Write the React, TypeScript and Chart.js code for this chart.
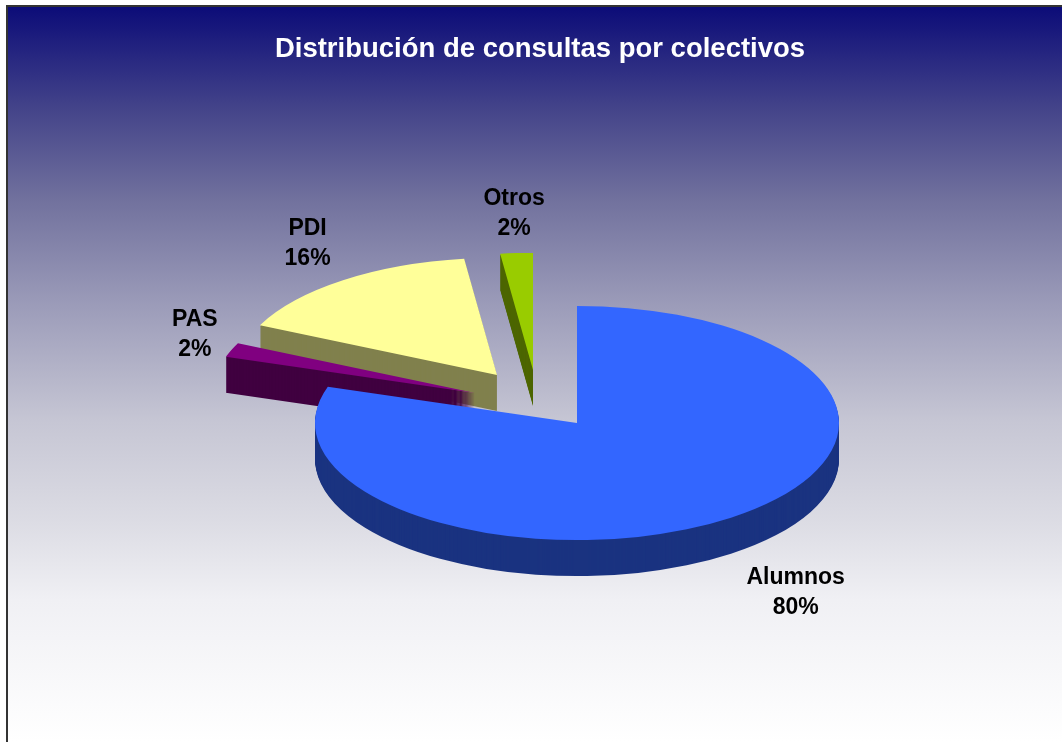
import React, { useEffect, useRef } from 'react';
import { Chart, registerables } from 'chart.js';

Chart.register(...registerables);

const TITLE = 'Distribución de consultas por colectivos';
const categories = ['Alumnos', 'PAS', 'PDI', 'Otros'];
const values = [80, 2, 16, 2];

// styling
const topColors = ['#3366FF', '#800080', '#FFFF99', '#99CC00'];
const sideColors = ['#1A3380', '#400040', '#80804D', '#4D6600'];
const explodeX = [0, -102, -80, -44];
const explodeY = [0, -30, -48, -53];
const drawOrder = [2, 3, 1, 0];
const labelDistX = [1.42, 1.15, 1.23, 1.15];
const labelDistY = [1.41, 1.35, 1.39, 1.34];
const TILT = 0.447;
const DEPTH = 36;

const pie3d = {
  id: 'pie3d',
  beforeDatasetsDraw(chart: any) {
    const ctx = chart.ctx as CanvasRenderingContext2D;
    const meta = chart.getDatasetMeta(0);
    const total = values.reduce((a, b) => a + b, 0);
    const drawArc = (el: any, color: string, dx: number, dy: number) => {
      const proxy = Object.create(el);
      proxy.options = Object.assign({}, el.options, { backgroundColor: color, borderWidth: 0 });
      ctx.save();
      ctx.translate(el.x + dx, el.y + dy);
      ctx.scale(1, TILT);
      ctx.translate(-el.x, -el.y);
      proxy.draw(ctx);
      ctx.restore();
    };
    for (const i of drawOrder) {
      const el = meta.data[i];
      for (let d = DEPTH; d >= 1; d--) drawArc(el, sideColors[i], explodeX[i], explodeY[i] + d);
      drawArc(el, topColors[i], explodeX[i], explodeY[i]);
    }
    ctx.save();
    ctx.font = 'bold 23px "Liberation Sans", Arial, sans-serif';
    ctx.fillStyle = '#000000';
    ctx.textAlign = 'center';
    ctx.textBaseline = 'middle';
    meta.data.forEach((el: any, i: number) => {
      const mid = (el.startAngle + el.endAngle) / 2;
      const r = el.outerRadius;
      const s = Math.sin(mid);
      const lx = el.x + explodeX[i] + Math.cos(mid) * r * labelDistX[i];
      const ly = el.y + explodeY[i] + s * r * TILT * labelDistY[i] + (s > 0 ? DEPTH : 0);
      const pct = Math.round((values[i] / total) * 100) + '%';
      ctx.fillText(categories[i], lx, ly - 15);
      ctx.fillText(pct, lx, ly + 15);
    });
    ctx.restore();
    return false;
  },
};

export default function App() {
  const ref = useRef<HTMLCanvasElement | null>(null);
  useEffect(() => {
    if (!ref.current) return;
    const chart = new Chart(ref.current, {
      type: 'pie',
      data: {
        labels: categories,
        datasets: [{ data: values, backgroundColor: topColors, borderWidth: 0 }],
      },
      options: {
        responsive: true,
        maintainAspectRatio: false,
        animation: false,
        events: [],
        layout: { padding: { left: 315, right: 223, top: 161, bottom: 57 } },
        plugins: {
          legend: { display: false },
          tooltip: { enabled: false },
          title: { display: false },
        },
      },
      plugins: [pie3d as any],
    });
    return () => chart.destroy();
  }, []);

  return (
    <div style={{ position: 'fixed', left: 0, top: 0, width: 1062, height: 742, overflow: 'hidden', background: '#ffffff' }}>
      <div
        style={{
          position: 'absolute',
          left: 6,
          top: 5,
          width: 1100,
          height: 737,
          boxSizing: 'border-box',
          borderTop: '2px solid #333333',
          borderLeft: '2px solid #333333',
          background:
            'linear-gradient(to bottom, #0c0c78 0%, #45458a 14.2%, #72729e 26.5%, #9a9ab8 40%, #c6c6d4 56.3%, #dcdce4 70%, #f0f0f4 80.7%, #ffffff 100%)',
        }}
      />
      <div style={{ position: 'absolute', left: 0, top: 0, width: 1062, height: 742 }}>
        <canvas ref={ref} />
      </div>
      <div
        style={{
          position: 'absolute',
          left: 0,
          top: 32,
          width: 1080,
          textAlign: 'center',
          color: '#ffffff',
          font: 'bold 27.5px "Liberation Sans", Arial, sans-serif',
          lineHeight: '32px',
        }}
      >
        {TITLE}
      </div>
    </div>
  );
}
